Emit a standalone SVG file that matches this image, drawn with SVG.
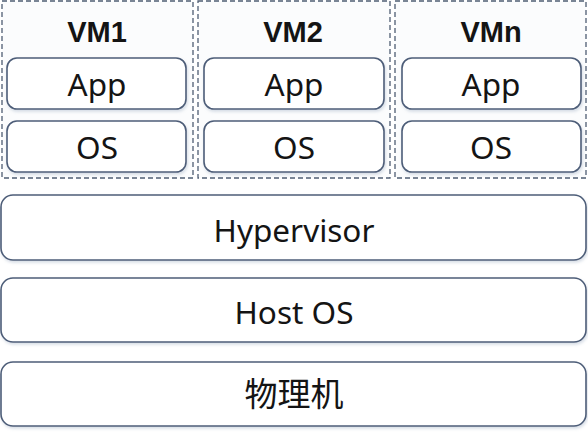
<svg xmlns="http://www.w3.org/2000/svg" width="588" height="434" viewBox="0 0 588 434">
<style>
.vm{fill:#fbfcfd;stroke:#4f5d73;stroke-width:1.3;stroke-dasharray:5 3}
.box{fill:#ffffff;stroke:#4d5d78;stroke-width:1.6}
.t{font-family:"Noto Sans","Liberation Sans",sans-serif;font-size:31.5px;fill:#141414;text-anchor:middle}
.vt{font-family:"Liberation Sans","Noto Sans",sans-serif;font-size:29px;font-weight:bold;fill:#141414;text-anchor:middle}
.cjk{font-family:"Noto Sans CJK SC","Noto Sans",sans-serif;font-size:33px;fill:#141414;text-anchor:middle}
</style>
<defs>
<filter id="sh" x="-5%" y="-20%" width="110%" height="150%">
<feDropShadow dx="1" dy="2" stdDeviation="1.5" flood-color="#8fa0b8" flood-opacity="0.35"/>
</filter>
</defs>
<rect width="588" height="434" fill="#ffffff"/>
<g id="vm1">
<rect class="vm" x="2" y="1" width="191" height="177"/>
<text class="vt" x="97" y="42">VM1</text>
<g id="vm1-app"><rect class="box" filter="url(#sh)" x="7" y="58" width="179" height="51" rx="10"/><text class="t" x="97" y="95.5">App</text></g>
<g id="vm1-os"><rect class="box" filter="url(#sh)" x="7" y="121" width="179" height="51" rx="10"/><text class="t" x="97" y="158.5">OS</text></g>
</g>
<g id="vm2">
<rect class="vm" x="198" y="1" width="192" height="177"/>
<text class="vt" x="293" y="42">VM2</text>
<g id="vm2-app"><rect class="box" filter="url(#sh)" x="204" y="58" width="180" height="51" rx="10"/><text class="t" x="294" y="95.5">App</text></g>
<g id="vm2-os"><rect class="box" filter="url(#sh)" x="204" y="121" width="180" height="51" rx="10"/><text class="t" x="294" y="158.5">OS</text></g>
</g>
<g id="vmn">
<rect class="vm" x="395" y="1" width="191" height="177"/>
<text class="vt" x="491" y="42">VMn</text>
<g id="vmn-app"><rect class="box" filter="url(#sh)" x="402" y="58" width="179" height="51" rx="10"/><text class="t" x="491" y="95.5">App</text></g>
<g id="vmn-os"><rect class="box" filter="url(#sh)" x="402" y="121" width="179" height="51" rx="10"/><text class="t" x="491" y="158.5">OS</text></g>
</g>
<g id="hypervisor">
<rect class="box" filter="url(#sh)" x="1" y="195" width="585" height="65" rx="12"/>
<text class="t" x="294" y="241.5">Hypervisor</text>
</g>
<g id="hostos">
<rect class="box" filter="url(#sh)" x="1" y="278" width="585" height="64" rx="12"/>
<text class="t" x="294" y="323.5">Host OS</text>
</g>
<g id="physical">
<rect class="box" filter="url(#sh)" x="1" y="362" width="585" height="64" rx="12"/>
<text class="cjk" x="294" y="406">物理机</text>
</g>
<g id="connectors"></g>
</svg>
